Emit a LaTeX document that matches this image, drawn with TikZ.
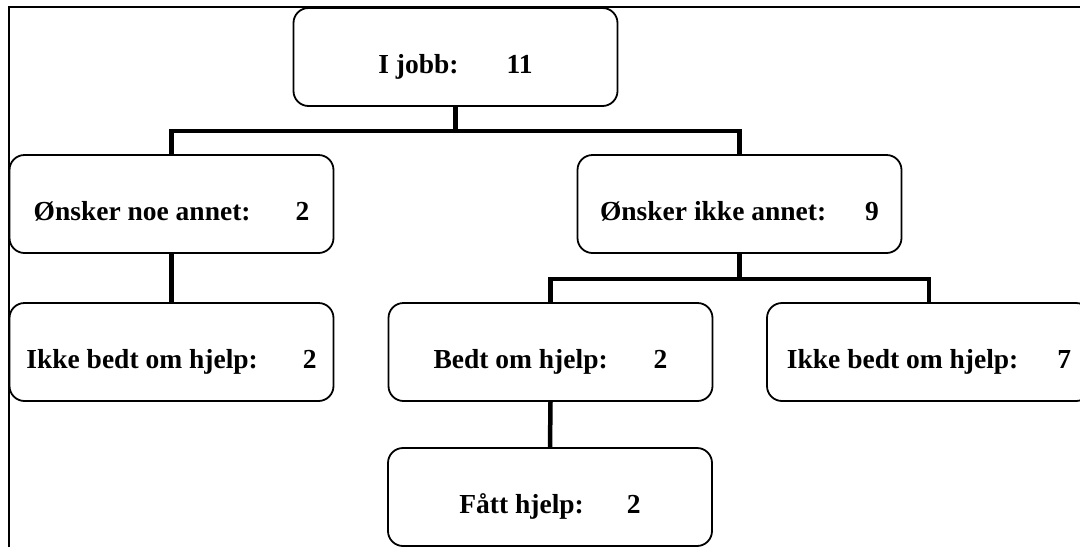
\documentclass[tikz,border=0pt]{standalone}
\usepackage{fontspec}
\setmainfont{Liberation Serif}
\usetikzlibrary{calc}
\begin{document}
\begin{tikzpicture}[x=1pt,y=-1pt,
  box/.style={draw=black, line width=1.8pt, rounded corners=15pt, inner sep=0pt,
    minimum width=324pt, text height=65pt, text depth=33pt,
    font=\fontsize{27.5pt}{33pt}\selectfont\bfseries},
  conn/.style={draw=black, line width=4.5pt},
  frame/.style={draw=black, line width=2pt}]
\useasboundingbox (0,0) rectangle (1080,547);
\clip (0,0) rectangle (1080,547);
\fill[white] (0,0) rectangle (1080,547);
% frame
\draw[frame] (9,547) -- (9,6.5) -- (1081,6.5);
% boxes
\node[box] (jobb)  at (455.5,57)  {I jobb:\hspace{48pt}11};
\node[box] (noe)   at (171.5,204) {Ønsker noe annet:\hspace{45pt}2};
\node[box] (ikke)  at (739.5,204) {Ønsker ikke annet:\hspace{39pt}9};
\node[box] (ikkeL) at (171.5,352) {Ikke bedt om hjelp:\hspace{45pt}2};
\node[box] (bedt)  at (550.5,352) {Bedt om hjelp:\hspace{46pt}2};
\node[box] (ikkeR) at (929,352)   {Ikke bedt om hjelp:\hspace{39pt}7};
\node[box] (faatt) at (550,497)   {Fått hjelp:\hspace{43pt}2};
% connectors
\draw[conn] (jobb.south) -- ++(0,24);
\draw[conn] (noe.north) |- ($(jobb.south)+(0,24)$) -| (ikke.north);
\draw[conn] (noe.south) -- (ikkeL.north);
\draw[conn] (ikke.south) -- ++(0,25);
\draw[conn] (bedt.north) |- ($(ikke.south)+(0,25)$) -| (ikkeR.north);
\draw[conn] (bedt.south) -- (faatt.north);
\end{tikzpicture}
\end{document}
